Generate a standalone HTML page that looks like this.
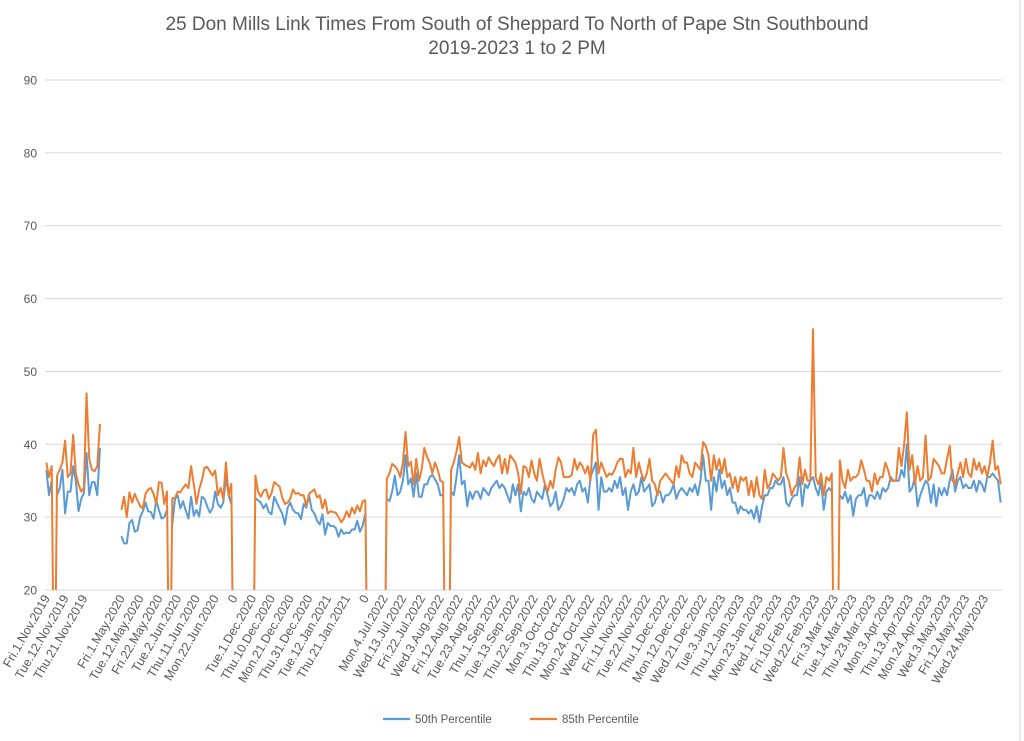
<!DOCTYPE html>
<html><head><meta charset="utf-8"><style>
body{margin:0;background:#fff;}
svg{display:block;font-family:"Liberation Sans",sans-serif;}
</style></head><body>
<svg id="chart" width="1024" height="741" viewBox="0 0 1024 741">
<rect width="1024" height="741" fill="#fff"/>
<line x1="1020" y1="0" x2="1020" y2="741" stroke="#d9d9d9" stroke-width="1"/>
<text x="517" y="30" text-anchor="middle" font-size="19" fill="#595959">25 Don Mills Link Times From South of Sheppard To North of Pape Stn Southbound</text>
<text x="517" y="54" text-anchor="middle" font-size="19" fill="#595959">2019-2023 1 to 2 PM</text>
<defs><clipPath id="plotclip"><rect x="40" y="70" width="970" height="520"/></clipPath></defs>
<g id="grid"></g>
<g id="yticks"></g>
<g id="series" clip-path="url(#plotclip)"></g>
<g id="xticks"></g>
<g>
<line x1="383" y1="719" x2="410" y2="719" stroke="#5b9bd5" stroke-width="2.2"/>
<text x="415" y="723" font-size="11.5" fill="#595959">50th Percentile</text>
<line x1="530" y1="719" x2="557" y2="719" stroke="#ed7d31" stroke-width="2.2"/>
<text x="562" y="723" font-size="11.5" fill="#595959">85th Percentile</text>
</g>
</svg>
<script>
const yTicks=[20,30,40,50,60,70,80,90];
const xLabels=["Fri.1.Nov.2019","Tue.12.Nov.2019","Thu.21.Nov.2019","","Fri.1.May.2020","Tue.12.May.2020","Fri.22.May.2020","Tue.2.Jun.2020","Thu.11.Jun.2020","Mon.22.Jun.2020","0","Tue.1.Dec.2020","Thu.10.Dec.2020","Mon.21.Dec.2020","Thu.31.Dec.2020","Tue.12.Jan.2021","Thu.21.Jan.2021","0","Mon.4.Jul.2022","Wed.13.Jul.2022","Fri.22.Jul.2022","Wed.3.Aug.2022","Fri.12.Aug.2022","Tue.23.Aug.2022","Thu.1.Sep.2022","Tue.13.Sep.2022","Thu.22.Sep.2022","Mon.3.Oct.2022","Thu.13.Oct.2022","Mon.24.Oct.2022","Wed.2.Nov.2022","Fri.11.Nov.2022","Tue.22.Nov.2022","Thu.1.Dec.2022","Mon.12.Dec.2022","Wed.21.Dec.2022","Tue.3.Jan.2023","Thu.12.Jan.2023","Mon.23.Jan.2023","Wed.1.Feb.2023","Fri.10.Feb.2023","Wed.22.Feb.2023","Fri.3.Mar.2023","Tue.14.Mar.2023","Thu.23.Mar.2023","Mon.3.Apr.2023","Thu.13.Apr.2023","Mon.24.Apr.2023","Wed.3.May.2023","Fri.12.May.2023","Wed.24.May.2023"];
const labelEvery=7;
const N=null;
const p85=[
37.5,35.5,37,0,35.7,36.5,37.5,40.5,35.5,36,41.3,36,34.5,33.5,34,47,38,36.5,36.3,37,42.8,
N,N,N,N,N,N,N,
31,32.8,30,33.4,32,33.2,32.3,31.5,31.2,33.2,33.8,34,33.2,31.8,34.8,34.7,31.8,33.5,
0,
32.6,32.6,33.5,33.4,34,34.5,34,37,34.5,31.8,33.8,35,36.8,36.9,36.3,35.7,36.4,33,34,32.5,37.5,33,34.6,
0,N,N,N,N,N,N,0,
35.7,33.5,32.8,33.6,33.8,32.5,33.3,34.8,34.5,34.2,32.7,31.8,32,32.5,33.8,33.2,33.3,33,33,31.5,33.2,33.5,33.8,32.7,33,31.2,32.4,30.5,30.8,30.7,30.6,30,29.3,29.8,30.8,30,31.3,30.5,31.6,30.8,32.2,32.3,
0,N,N,N,N,N,0,
35.3,36,37.3,37,36.5,35.5,37.5,41.7,37,37.6,34.5,38,35,36.5,39.5,38.3,37.5,36,37.5,36.5,35,34.8,
0,0,
36.5,37.5,39.0,
41.0,37.5,37.2,37.0,36.8,37.5,36.5,
38.8,36.0,37.8,37.0,38.2,37.5,37.0,
38.0,38.5,36.0,38.0,36.0,38.5,38.0,
37.5,36.0,33.2,37.0,36.8,35.5,37.8,
36.0,35.0,38.0,36.0,34.5,33.5,35.0,
34.0,36.5,38.2,37.5,35.5,35.5,35.5,
35.8,38.0,36.5,37.5,37.0,36.0,37.0,
35.0,41.3,42.0,36.0,37.5,36.5,35.5,
36.0,35.8,36.5,37.5,38.0,38.0,35.5,
36.5,36.0,39.5,35.5,37.5,36.0,35.0,
36.0,38.0,35.0,34.5,33.0,35.0,35.5,
36.0,35.5,35.0,34.5,37.0,35.5,38.5,
37.5,37.5,36.0,35.5,37.5,37.0,36.5,
40.3,39.8,38.5,35.0,38.5,36.5,38.0,
36.0,38.0,35.5,36.0,34.0,35.5,33.5,
35.5,35.0,35.5,33.0,35.0,32.8,35.5,
33.0,32.5,36.5,34.0,34.5,36.0,35.5,
35.0,35.5,39.5,36.0,35.0,33.0,34.0,
34.5,38.2,34.5,36.5,35.0,35.0,55.8,
35.5,34.5,36.0,33.0,35.5,35.0,36.0,
0,0,
37.8,35.0,34.0,36.5,35.0,
35.5,35.5,36.0,37.8,36.5,35.0,35.0,
33.5,36.0,34.5,35.5,35.5,37.5,36.5,
35.0,35.0,35.0,39.5,37.0,40.0,44.4,
36.5,38.5,34.5,37.0,35.0,35.5,41.2,
35.0,35.5,38.0,37.5,37.0,36.0,36.0,
38.0,39.8,35.0,34.5,36.0,37.5,35.5,
38.0,36.0,35.5,38.0,36.5,37.5,36.0,
37.0,35.5,37.5,40.5,36.5,37.0,34.5
];
const p50=[
36.5,33,35,N,33,34,36.5,30.5,33.5,33.5,37,35,30.8,32.5,33.3,38.8,33,34.8,34.8,33,39.5,
N,N,N,N,N,N,N,
27.4,26.4,26.4,29.2,29.6,28,28.2,30,30.8,32,30.8,30.7,29.8,32.3,31,29.8,30,31,
N,
29,32.5,33,31.2,32.2,30.9,29.8,32.8,30.2,31,30.1,32.8,32.5,31.5,30.6,31.2,33.5,31.8,31.3,32,35.5,33,31.8,
N,N,N,N,N,N,N,N,
32.6,32.3,32,31.2,31.8,30.7,30.4,32.8,32,31.2,30.5,29,31.3,32,31,30.6,30.5,29.7,31.8,31.3,33,31,30.5,29.5,29,30.4,27.6,29.2,28.8,28.8,28.5,27.3,28.3,27.7,27.9,27.8,28.3,28.3,29.5,28,28.8,30.5,
N,N,N,N,N,N,N,
32.5,32.2,33.5,35.7,33,33.5,35,38.5,34.5,35.3,32.8,36,32.8,32.8,34.5,34.5,35.5,35.8,35.2,34.5,33,33,
N,N,
33.5,33.0,35.5,
38.5,34.5,35.0,31.5,33.5,32.5,33.5,
33.5,32.5,34.0,33.5,33.0,34.0,34.5,
35.0,34.0,34.5,34.0,33.0,32.0,34.5,
33.0,34.5,30.8,33.5,33.0,34.0,32.5,
32.0,33.5,33.0,32.5,34.5,33.0,31.5,
32.0,33.5,31.0,31.5,32.5,34.0,33.5,
34.0,33.0,34.5,35.0,33.5,34.0,32.0,
35.5,36.5,37.5,31.0,35.5,33.5,33.5,
34.0,33.5,35.0,34.0,35.5,33.0,34.0,
31.0,33.5,34.5,33.0,33.5,35.5,33.5,
34.0,34.5,31.5,32.0,33.5,33.5,32.0,
33.0,33.0,33.5,34.5,32.5,33.5,34.0,
33.5,33.0,34.0,33.5,34.5,33.0,35.0,
38.5,35.0,35.0,31.0,35.5,33.5,36.5,
34.0,35.0,33.0,34.0,32.0,32.0,30.5,
31.5,31.0,31.0,30.5,31.0,29.8,31.5,
29.3,31.5,33.0,33.0,34.0,34.0,35.0,
34.5,34.5,35.5,32.0,31.5,32.5,33.0,
33.0,35.5,31.5,34.5,34.0,35.0,35.5,
34.0,33.0,35.0,31.0,33.5,34.0,33.5,
N,N,
33.0,32.5,33.5,32.0,33.0,
30.2,32.5,33.0,33.0,34.0,31.5,33.0,
33.0,32.5,33.5,32.5,34.0,33.5,34.0,
35.5,35.0,35.0,35.0,36.5,35.5,40.0,
33.5,34.0,35.5,31.5,33.0,34.0,35.0,
34.5,32.0,34.5,31.5,34.0,33.0,34.0,
33.0,35.0,36.5,33.5,35.0,35.5,34.0,
34.5,34.0,34.0,35.0,33.5,35.0,34.5,
33.5,35.5,35.5,36.0,35.5,35.0,32.0
];
const NS="http://www.w3.org/2000/svg";
const plotL=45,plotR=1002,plotT=80,plotB=590,yMin=20,yMax=90;
const nCat=p85.length;
const catW=(plotR-plotL)/nCat;
function xScale(i){return plotL+(i+0.5)*catW;}
function yScale(v){return plotB-(v-yMin)/(yMax-yMin)*(plotB-plotT);}
function mk(tag,attrs){const e=document.createElementNS(NS,tag);for(const k in attrs)e.setAttribute(k,attrs[k]);return e;}
const grid=document.getElementById('grid'),yt=document.getElementById('yticks');
yTicks.forEach(t=>{
  const l=mk('line',{x1:plotL,x2:plotR,y1:yScale(t),y2:yScale(t),stroke:'#d9d9d9','stroke-width':1});
  
  
  grid.appendChild(l);
  const tx=mk('text',{x:37,y:yScale(t)+4.5,'text-anchor':'end','font-size':12,fill:'#595959'});
  tx.textContent=t;
  
  
  yt.appendChild(tx);
});
const xt=document.getElementById('xticks');
xLabels.forEach((s,k)=>{
  if(!s)return;
  const x=xScale(k*labelEvery)+4,y=plotB+8;
  const tx=mk('text',{x:x,y:y,'text-anchor':'end','font-size':12.5,fill:'#595959',transform:'rotate(-60 '+x+' '+y+')'});
  tx.textContent=s;
  
  
  xt.appendChild(tx);
});
function drawSeries(arr,color,name){
  let d='',pen=false;
  arr.forEach((v,i)=>{
    if(v===null){pen=false;return;}
    d+=(pen?'L':'M')+xScale(i).toFixed(2)+' '+yScale(v).toFixed(2)+' ';
    pen=true;
  });
  const p=mk('path',{d:d,fill:'none',stroke:color,'stroke-width':2,'stroke-linejoin':'round'});
  
  
  document.getElementById('series').appendChild(p);
}
drawSeries(p50,'#5b9bd5','series-50th-percentile');
drawSeries(p85,'#ed7d31','series-85th-percentile');
</script>
</body></html>
